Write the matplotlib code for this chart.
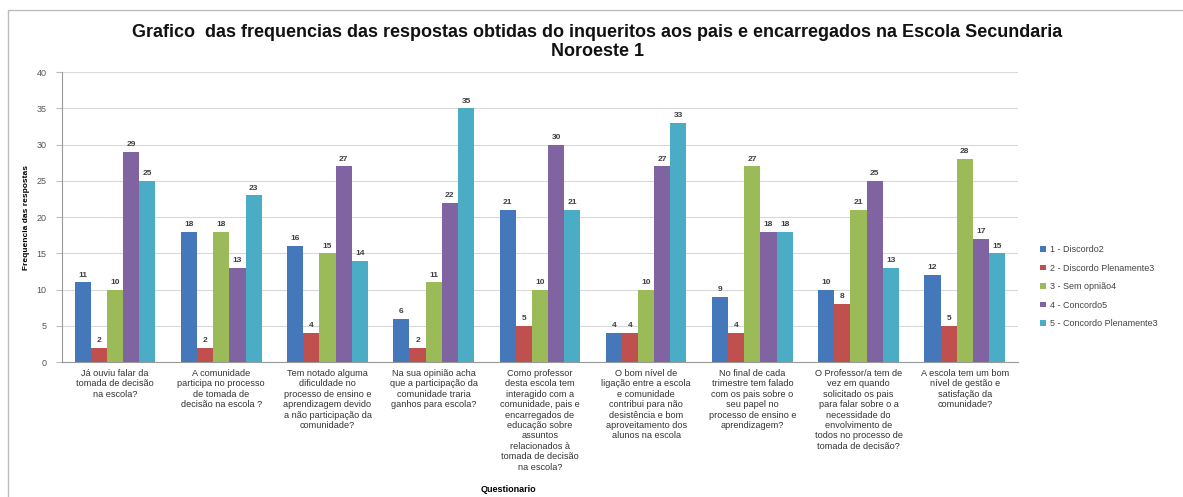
import numpy as np
import matplotlib.pyplot as plt
from matplotlib.patches import Rectangle

perguntas = [
    "Já ouviu falar da\ntomada de decisão\nna escola?",
    "A comunidade\nparticipa no processo\nde tomada de\ndecisão na escola ?",
    "Tem notado alguma\ndificuldade no\nprocesso de ensino e\naprendizagem devido\na não participação da\ncomunidade?",
    "Na sua opinião acha\nque a participação da\ncomunidade traria\nganhos para escola?",
    "Como professor\ndesta escola tem\ninteragido com a\ncomunidade, pais e\nencarregados de\neducação sobre\nassuntos\nrelacionados à\ntomada de decisão\nna escola?",
    "O bom nível de\nligação entre a escola\ne comunidade\ncontribui para não\ndesistência e bom\naproveitamento dos\nalunos na escola",
    "No final de cada\ntrimestre tem falado\ncom os pais sobre o\nseu papel no\nprocesso de ensino e\naprendizagem?",
    "O Professor/a tem de\nvez em quando\nsolicitado os pais\npara falar sobre o a\nnecessidade do\nenvolvimento de\ntodos no processo de\ntomada de decisão?",
    "A escola tem um bom\nnível de gestão e\nsatisfação da\ncomunidade?",
]

series_names = ["1 - Discordo2", "2 - Discordo Plenamente3", "3 - Sem opnião4",
                "4 - Concordo5", "5 - Concordo Plenamente3"]

discordo = [11, 18, 16, 6, 21, 4, 9, 10, 12]
discordo_plen = [2, 2, 4, 2, 5, 4, 4, 8, 5]
sem_opiniao = [10, 18, 15, 11, 10, 10, 27, 21, 28]
concordo = [29, 13, 27, 22, 30, 27, 18, 25, 17]
concordo_plen = [25, 23, 14, 35, 21, 33, 18, 13, 15]

cores = ["#4478BA", "#C0504D", "#9BBB59", "#8064A2", "#4BACC6"]

plt.rcParams['font.family'] = ['Liberation Sans Narrow', 'Liberation Sans', 'DejaVu Sans']

fig = plt.figure(figsize=(11.83, 4.97), dpi=100)
ax = fig.add_axes([0.0524, 0.2716, 0.808, 0.5834])

# moldura do gráfico
fig.patches.append(Rectangle((8 / 1183, -0.01), 1.0, 1 - 10 / 497 + 0.01,
                             transform=fig.transFigure, fill=False,
                             edgecolor="#bdbdbd", linewidth=1.0))

x = np.arange(len(perguntas))
w = 0.152
dados = [discordo, discordo_plen, sem_opiniao, concordo, concordo_plen]
for i, (vals, cor, nome) in enumerate(zip(dados, cores, series_names)):
    pos = x + (i - 2) * w
    bars = ax.bar(pos, vals, w, color=cor, label=nome, zorder=3)
    for b, v in zip(bars, vals):
        ax.text(b.get_x() + b.get_width() / 2, v + 0.5, str(v), ha="center",
                va="bottom", fontsize=6, color="#404040", fontweight="bold")

ax.set_xlim(-0.5, len(perguntas) - 0.5)
ax.set_ylim(0, 40)
ax.set_yticks(range(0, 41, 5))
ax.tick_params(axis="y", labelsize=6.5, colors="#555555", length=4, color="#bbbbbb", pad=7)
ax.set_xticks(x)
ax.set_xticklabels(perguntas, fontsize=6.6, color="#333333", linespacing=1.2)
ax.tick_params(axis="x", length=0, pad=5)
ax.grid(axis="y", color="#d9d9d9", linewidth=0.8, zorder=0)
for s in ["top", "right"]:
    ax.spines[s].set_visible(False)
ax.spines["left"].set_color("#999999")
ax.spines["bottom"].set_color("#999999")

ax.set_ylabel("Frequencia das respostas", fontsize=6, fontweight="bold")
ax.yaxis.set_label_coords(-0.033, 0.5)
fig.text(508 / 1183, 1 - 490 / 497, "Questionario", ha="center", va="center",
         fontsize=6.5, fontweight="bold")

fig.suptitle("Grafico  das frequencias das respostas obtidas do inqueritos aos pais e encarregados na Escola Secundaria\nNoroeste 1",
             x=0.505, y=1 - 24 / 497, fontsize=13, fontweight="bold", va="top",
             linespacing=1.15, color="#111111")

fig.legend(loc="upper left", bbox_to_anchor=(1032 / 1183, 1 - 237 / 497),
           frameon=False, fontsize=6.5, handlelength=0.6, handleheight=0.6,
           handletextpad=0.5, labelspacing=1.05, labelcolor="#444444")

fig.savefig("out.png", dpi=100)
